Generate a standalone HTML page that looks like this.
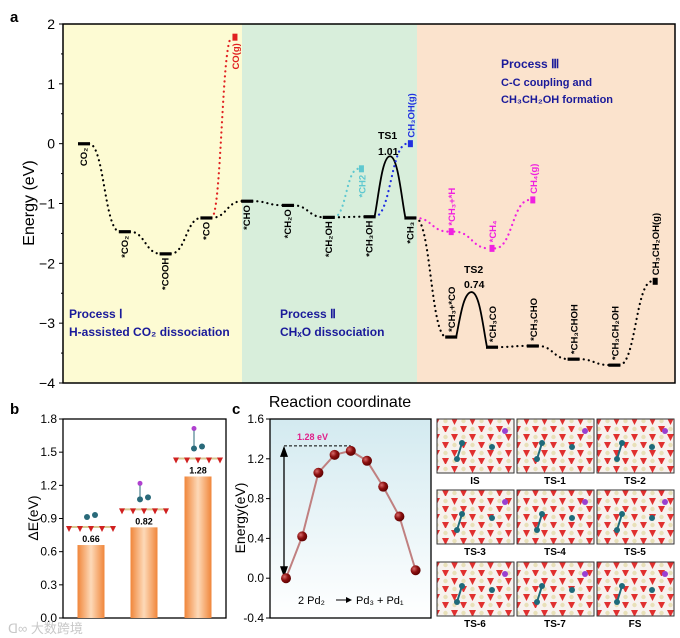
<!DOCTYPE html>
<html><head><meta charset="utf-8"><style>
html,body{margin:0;padding:0;background:#fff}
svg{display:block;font-family:"Liberation Sans",Arial,sans-serif}
</style></head><body>
<svg id="fig" width="680" height="638" viewBox="0 0 680 638">
<defs>
<linearGradient id="barg" x1="0" x2="1" y1="0" y2="0">
<stop offset="0" stop-color="#f0863a"/><stop offset="0.5" stop-color="#fdd9b8"/><stop offset="1" stop-color="#f0863a"/></linearGradient>
<linearGradient id="cbg" x1="0" x2="0" y1="0" y2="1">
<stop offset="0" stop-color="#d3eaf0"/><stop offset="1" stop-color="#ffffff"/></linearGradient>
<radialGradient id="ball" cx="0.35" cy="0.35" r="0.7">
<stop offset="0" stop-color="#d86a6a"/><stop offset="0.5" stop-color="#8c1010"/><stop offset="1" stop-color="#5a0000"/></radialGradient>
<pattern id="slab" width="18" height="16" patternUnits="userSpaceOnUse">
<rect width="18" height="16" fill="#f7f2ee"/>
<polygon points="1,2 8,2 4.5,9" fill="#e03030"/>
<polygon points="10,10 17,10 13.5,17" fill="#e03030"/>
<circle cx="13.5" cy="5" r="2.2" fill="#e8e0b8"/>
<circle cx="4.5" cy="13" r="2.2" fill="#e8e0b8"/>
</pattern>
</defs>
<g id="pa"></g>
<g id="pb"></g>
<g id="pc"></g>
<g id="pd"></g>
</svg>
<script>
// ---------- panel a data ----------
const aNames = ["CO₂","*CO₂","*COOH","*CO","*CHO","*CH₂O","*CH₂OH","*CH₃OH","*CH₃","*CH₃+*CO","*CH₃CO","*CH₃CHO","*CH₃CHOH","*CH₃CH₂OH"];
const aEnergy = [0,-1.47,-1.84,-1.24,-0.96,-1.03,-1.23,-1.22,-1.24,-3.23,-3.40,-3.38,-3.60,-3.70];
const aPos = [1,2,3,4,5,6,7,8,9,10,11,12,13,14];
const branchNames = ["CO(g)","*CH2","CH₃OH(g)","*CH₃+*H","*CH₄","CH₄(g)","CH₃CH₂OH(g)"];
const branchEnergy = [1.78,-0.42,0.0,-1.47,-1.75,-0.94,-2.30];
const branchPos = [4.7,7.8,9.0,10.0,11.0,12.0,15.0];
const branchFrom = [3,6,7,8,-1,-1,13];
const tsEnergy = [-0.21,-2.48];
const yTicksA = [2,1,0,-1,-2,-3,-4];

const NS="http://www.w3.org/2000/svg";
function mk(p,tag,at,txt){const e=document.createElementNS(NS,tag);for(const k in at)e.setAttribute(k,at[k]);if(txt!==undefined)e.textContent=txt;p.appendChild(e);return e;}

const A={x0:63,x1:675,y0:24,y1:383};
const ya=e=>A.y0+(2-e)*(A.y1-A.y0)/6;
const xa=p=>78+(p-1)*40.8+6;
const pa=document.getElementById('pa');
let r;
r=mk(pa,'rect',{x:A.x0,y:A.y0,width:179,height:A.y1-A.y0,fill:'#fdfbd3'});
r=mk(pa,'rect',{x:242,y:A.y0,width:175,height:A.y1-A.y0,fill:'#d8eedb'});
r=mk(pa,'rect',{x:417,y:A.y0,width:A.x1-417,height:A.y1-A.y0,fill:'#fbe3cd'});
mk(pa,'rect',{x:A.x0,y:A.y0,width:A.x1-A.x0,height:A.y1-A.y0,fill:'none',stroke:'#000','stroke-width':1.5});
yTicksA.forEach(t=>{const y=ya(t);mk(pa,'line',{x1:A.x0-4,x2:A.x0,y1:y,y2:y,stroke:'#000'});
 const tl=mk(pa,'text',{x:A.x0-8,y:y+5,'text-anchor':'end','font-size':14},t<0?'−'+(-t):String(t));});
for(let t=1.5;t>-4;t-=1){const y=ya(t);mk(pa,'line',{x1:A.x0-2,x2:A.x0,y1:y,y2:y,stroke:'#000'});}
let t=mk(pa,'text',{x:0,y:0,transform:'translate(34,203) rotate(-90)','text-anchor':'middle','font-size':16},'Energy (eV)');
t=mk(pa,'text',{x:340,y:407,'text-anchor':'middle','font-size':16},'Reaction coordinate');
t=mk(pa,'text',{x:10,y:22,'font-size':15,'font-weight':'bold'},'a');

function dotted(x1,y1,x2,y2,col){const mx=(x1+x2)/2;
 const p=mk(pa,'path',{d:`M${x1},${y1} C${mx},${y1} ${mx},${y2} ${x2},${y2}`,fill:'none',stroke:col,'stroke-width':2.2,'stroke-dasharray':'0.1 5','stroke-linecap':'round'});
 }
function tsCurve(x1,y1,x2,y2,ypk){const xm=(x1+x2)/2;
 const p=mk(pa,'path',{d:`M${x1},${y1} C${x1+4},${y1-20} ${xm-8},${ypk} ${xm},${ypk} C${xm+8},${ypk} ${x2-4},${y2-20} ${x2},${y2}`,fill:'none',stroke:'#000','stroke-width':1.8});
 }
for(let i=0;i<aNames.length-1;i++){
 const x1=xa(aPos[i])+5,y1=ya(aEnergy[i]),x2=xa(aPos[i+1])-5,y2=ya(aEnergy[i+1]);
 if(i===7)tsCurve(x1,y1,x2,y2,ya(tsEnergy[0]));
 else if(i===9)tsCurve(x1,y1,x2,y2,ya(tsEnergy[1]));
 else dotted(x1,y1,x2,y2,'#000');}
const bcol=['#e02020','#5fc8d0','#2030e0','#f020e0','#f020e0','#f020e0','#000'];
branchNames.forEach((n,i)=>{let x1,y1;
 if(branchFrom[i]>=0){x1=xa(aPos[branchFrom[i]])+5;y1=ya(aEnergy[branchFrom[i]]);}
 else{x1=xa(branchPos[i-1])+3;y1=ya(branchEnergy[i-1]);}
 if(i===3){x1=xa(aPos[8])+5;y1=ya(aEnergy[8]);}
 dotted(x1,y1,xa(branchPos[i])-3,ya(branchEnergy[i]),bcol[i]);});
const below=[1,1,1,1,1,1,1,1,1,0,0,0,0,0];
aNames.forEach((n,i)=>{const x=xa(aPos[i]),y=ya(aEnergy[i]);
 const b=mk(pa,'rect',{x:x-6,y:y-1.5,width:12,height:3.2,fill:'#000'});
 const l=below[i]?mk(pa,'text',{transform:`translate(${x+3},${y+4}) rotate(-90)`,'text-anchor':'end','font-size':9.5,'font-weight':'bold'},n)
  :mk(pa,'text',{transform:`translate(${x+4},${y-5}) rotate(-90)`,'text-anchor':'start','font-size':9.5,'font-weight':'bold'},n);
 });
const bBelow=[1,1,0,0,0,0,0];
branchNames.forEach((n,i)=>{const x=xa(branchPos[i]),y=ya(branchEnergy[i]);
 const b=mk(pa,'rect',{x:x-2.5,y:y-3.5,width:5,height:7,fill:bcol[i]});
 const l=bBelow[i]?mk(pa,'text',{transform:`translate(${x+4},${y+6}) rotate(-90)`,'text-anchor':'end','font-size':9.5,'font-weight':'bold',fill:bcol[i]},n)
  :mk(pa,'text',{transform:`translate(${x+4},${y-6}) rotate(-90)`,'text-anchor':'start','font-size':9.5,'font-weight':'bold',fill:bcol[i]},n);
 });
function lbl(x,y,s,txt,name,col,w){const e=mk(pa,'text',{x:x,y:y,'font-size':s,'font-weight':w||'bold',fill:col||'#000'},txt);}
lbl(378,139,10.5,'TS1','ts1-label');lbl(378,155,10.5,'1.01','ts1-value');
lbl(464,273,10.5,'TS2','ts2-label');lbl(464,288,10.5,'0.74','ts2-value');
lbl(69,318,12,'Process Ⅰ','process-1-title','#1a1a9a');lbl(69,336,12,'H-assisted CO₂ dissociation','process-1-desc','#1a1a9a');
lbl(280,318,12,'Process Ⅱ','process-2-title','#1a1a9a');lbl(280,336,12,'CHₓO dissociation','process-2-desc','#1a1a9a');
lbl(501,68,12,'Process Ⅲ','process-3-title','#1a1a9a');lbl(501,86,11,'C-C coupling and','process-3-desc1','#1a1a9a');lbl(501,103,11,'CH₃CH₂OH formation','process-3-desc2','#1a1a9a');

// ---------- panel b ----------
const bValues=[0.66,0.82,1.28];
const bLabels=["0.66","0.82","1.28"];
const yTicksB=[0,0.3,0.6,0.9,1.2,1.5,1.8];
const pb=document.getElementById('pb');
const B={x0:63,x1:226,y0:419,y1:618};
const yb=v=>B.y1-v/1.8*(B.y1-B.y0);
mk(pb,'rect',{x:B.x0,y:B.y0,width:B.x1-B.x0,height:B.y1-B.y0,fill:'#fff',stroke:'#000','stroke-width':1.3});
yTicksB.forEach(v=>{const y=yb(v);mk(pb,'line',{x1:B.x0-4,x2:B.x0,y1:y,y2:y,stroke:'#000'});
 const e=mk(pb,'text',{x:B.x0-6,y:y+4,'text-anchor':'end','font-size':12},v.toFixed(1));});
t=mk(pb,'text',{transform:'translate(38,518) rotate(-90)','text-anchor':'middle','font-size':14},'ΔE(eV)');
t=mk(pb,'text',{x:10,y:414,'font-size':15,'font-weight':'bold'},'b');
const bx=[91,144,198];
bValues.forEach((v,i)=>{const y=yb(v);
 const e=mk(pb,'rect',{x:bx[i]-13.5,y:y,width:27,height:B.y1-y,fill:'url(#barg)'});
 const l=mk(pb,'text',{x:bx[i],y:y-3,'text-anchor':'middle','font-size':9,'font-weight':'bold'},bLabels[i]);
 const g=mk(pb,'g',{transform:`translate(${bx[i]},${y-22})`});
 mk(g,'line',{x1:-24,y1:4,x2:24,y2:4,stroke:'#d8c890','stroke-width':2});
 [-22,-11,0,11,22].forEach(dx=>mk(g,'polygon',{points:`${dx-3},3 ${dx+3},3 ${dx},9`,fill:'#d02020'}));
 mk(g,'circle',{cx:-4,cy:-6,r:3,fill:'#2a6a7a'});mk(g,'circle',{cx:4,cy:-8,r:3,fill:'#2a6a7a'});
 if(i>0){mk(g,'circle',{cx:-4,cy:-18-i*4,r:2.5,fill:'#b040d0'});mk(g,'line',{x1:-4,y1:-8,x2:-4,y2:-16-i*4,stroke:'#2a6a7a'});}
});
const wm=mk(pb,'text',{x:8,y:633,'font-size':13,fill:'#c8c8c8'},'ᗡ∞ 大数跨境');
wm.setAttribute('font-family','"Liberation Sans","Noto Sans CJK SC",sans-serif');

// ---------- panel c ----------
const cValues=[0,0.42,1.06,1.24,1.28,1.18,0.92,0.62,0.08];
const cSteps=[0,1,2,3,4,5,6,7,8];
const yTicksC=[-0.4,0,0.4,0.8,1.2,1.6];
const pc=document.getElementById('pc');
const C={x0:270,x1:431,y0:419,y1:618};
const yc=v=>C.y1-(v+0.4)/2*(C.y1-C.y0);
const xc=s=>286+s*16.2;
mk(pc,'rect',{x:C.x0,y:C.y0,width:C.x1-C.x0,height:C.y1-C.y0,fill:'url(#cbg)',stroke:'#000','stroke-width':1.3});
yTicksC.forEach(v=>{const y=yc(v);mk(pc,'line',{x1:C.x0-4,x2:C.x0,y1:y,y2:y,stroke:'#000'});
 const e=mk(pc,'text',{x:C.x0-6,y:y+4,'text-anchor':'end','font-size':12},v.toFixed(1));});
t=mk(pc,'text',{transform:'translate(245,518) rotate(-90)','text-anchor':'middle','font-size':14},'Energy(eV)');
t=mk(pc,'text',{x:232,y:414,'font-size':15,'font-weight':'bold'},'c');
const maxV=Math.max(...cValues);
let ln=mk(pc,'line',{x1:xc(0)-2,x2:xc(cValues.indexOf(maxV)),y1:yc(maxV)-5,y2:yc(maxV)-5,stroke:'#000','stroke-dasharray':'3 2'});
ln=mk(pc,'path',{d:`M${xc(0)-2},${yc(maxV)-3} L${xc(0)-2},${yc(0)-4}`,stroke:'#000','stroke-width':1.3});
mk(pc,'polygon',{points:`${xc(0)-6},${yc(maxV)+6} ${xc(0)+2},${yc(maxV)+6} ${xc(0)-2},${yc(maxV)-5}`,fill:'#000'});
mk(pc,'polygon',{points:`${xc(0)-6},${yc(0)-12} ${xc(0)+2},${yc(0)-12} ${xc(0)-2},${yc(0)-1}`,fill:'#000'});
t=mk(pc,'text',{x:297,y:440,'font-size':9,'font-weight':'bold',fill:'#e0208a'},maxV.toFixed(2)+' eV');
const pl=mk(pc,'polyline',{points:cValues.map((v,i)=>xc(cSteps[i])+','+yc(v)).join(' '),fill:'none',stroke:'#c08080','stroke-width':2});


cValues.forEach((v,i)=>{const c=mk(pc,'circle',{cx:xc(cSteps[i]),cy:yc(v),r:5,fill:'url(#ball)'});});
t=mk(pc,'text',{x:298,y:604,'font-size':11},'2 Pd₂');
mk(pc,'line',{x1:336,x2:350,y1:600,y2:600,stroke:'#000'});mk(pc,'polygon',{points:'346,597 352,600 346,603',fill:'#000'});
t=mk(pc,'text',{x:356,y:604,'font-size':11},'Pd₃ + Pd₁');

// ---------- snapshot grid ----------
const snapNames=["IS","TS-1","TS-2","TS-3","TS-4","TS-5","TS-6","TS-7","FS"];
const pd=document.getElementById('pd');
const colX=[437,517,597],rowY=[419,490,562];
snapNames.forEach((n,i)=>{const x=colX[i%3],y=rowY[Math.floor(i/3)];
 const g=mk(pd,'g',{});
 mk(g,'rect',{x:x,y:y,width:77,height:54,fill:'url(#slab)',stroke:'#333','stroke-width':1});
 mk(g,'line',{x1:x+20,y1:y+40,x2:x+25,y2:y+24,stroke:'#1e6a7a','stroke-width':2});
 mk(g,'circle',{cx:x+20,cy:y+40,r:3,fill:'#1e6a7a'});mk(g,'circle',{cx:x+25,cy:y+24,r:3,fill:'#1e6a7a'});
 mk(g,'circle',{cx:x+55,cy:y+28,r:3,fill:'#1e6a7a'});mk(g,'circle',{cx:x+68,cy:y+12,r:3,fill:'#9a40d0'});
 const l=mk(g,'text',{x:x+38,y:y+65,'text-anchor':'middle','font-size':10,'font-weight':'bold'},n);
});
</script>
</body></html>
